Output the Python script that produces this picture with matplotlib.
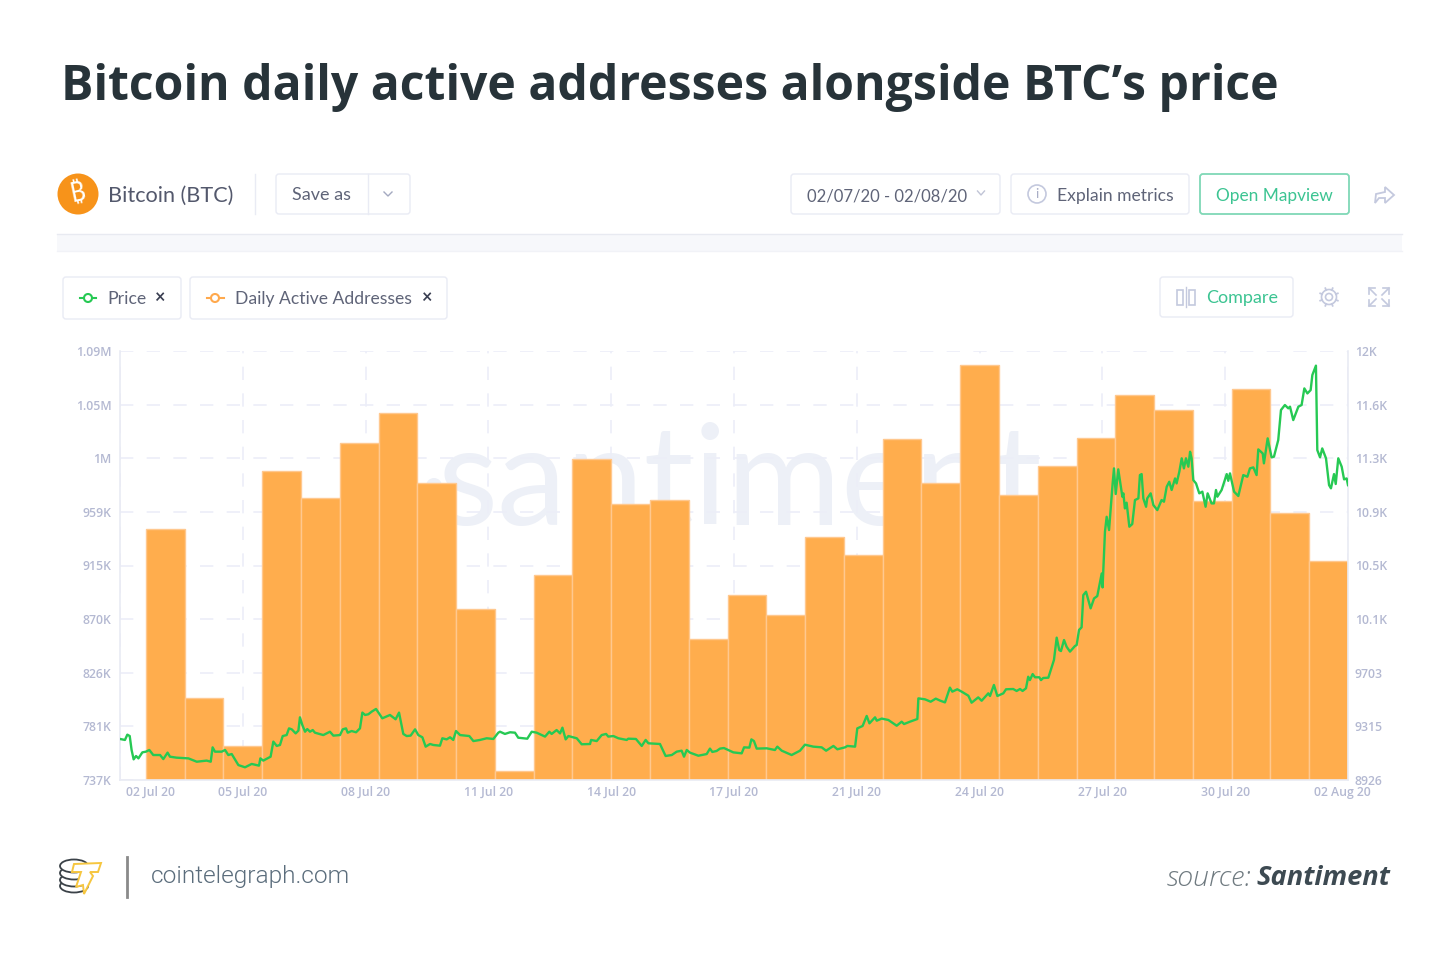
import numpy as np
import matplotlib
matplotlib.use('Agg')
import matplotlib.pyplot as plt
from matplotlib.patches import FancyBboxPatch, Circle, Rectangle, Ellipse, Polygon
from matplotlib.transforms import ScaledTranslation

# Daily active addresses, one bar per day
daa_values = [946000, 805000, 765000, 994000, 972000, 1017500, 1042000, 984000, 879000, 744500,
              908000, 1004000, 967000, 970000, 854000, 891000, 874000, 939000, 924000, 1021000,
              984000, 1082000, 974000, 998000, 1022000, 1057000, 1045000, 969000, 1062000, 959000, 919000]

# BTC price: hours since the left edge of the chart, and USD
price_hours = [
    0, 2.9, 4.3, 5.7, 6.8, 8, 9.4, 10.8, 13.1, 15.2, 17.2, 19.5, 23.5, 25.4, 27.9, 29.3, 33.2, 40.1, 45, 50.8,
    53.2, 54.3, 55.7, 59.6, 61.6, 63.5, 65.5, 69.4, 73.3, 77.2, 81.5, 82.3, 84, 88.3, 89.9, 91.9, 93.8, 95.4, 97.7, 99.1,
    100.7, 103, 104.6, 105.5, 106.9, 108.5, 109.8, 111.4, 113, 114.3, 119.2, 123.1, 125.1, 129, 130.6, 132.5, 133.5, 135.8, 138.4, 140.7,
    142.1, 143.7, 145.6, 147.6, 150.1, 153.8, 158.3, 161.6, 163.6, 166.1, 168.1, 170.4, 173, 174.9, 177.3, 179.2, 181.8, 183.7, 187.6, 189,
    191.5, 193.5, 195.4, 197, 199.4, 204.8, 207.2, 211.1, 215, 218.9, 221.8,
    222.8, 225.7, 228.7, 231.6, 233.5, 238.8, 241.4, 244.3, 249.2, 251.7, 253.1, 256, 258, 259.4, 261.3, 262.9, 267.8, 270.7, 275.6, 276.2,
    279.5, 282.4, 285, 286.3, 289.3, 292.2, 297.1, 298, 302.5, 305.9, 308.2, 309.8, 316.6, 319.9, 323.5, 326.4, 329.3, 330.7, 332.3, 334.2,
    339.1, 344, 345.9, 347.3, 349.8, 351.8, 354.1, 359.6, 364.5, 365.9, 369, 370.2, 371.7, 373.3, 379.2, 384, 385.4, 388, 393.8, 398.7,
    401.6, 406.5, 411.4, 414, 418.3, 420.6, 425.1, 426.5, 431, 432.3, 435.4, 437.8, 439.4, 442.7, 443.7, 446.6, 450.5, 455.4, 458.3, 459.7,
    463.2, 467.5, 468.1, 472, 475.3, 478.3, 480.8,
    483.7, 486.6, 488, 490.9, 493.5, 497.4, 499.3, 503.2, 505.2, 509.1, 510.1, 512.4, 514.4, 517.9, 519.5, 523.7, 525.7, 527.7, 529.2, 531.2,
    532.5, 533.5, 535.1, 536.5, 539, 540, 541.3, 544.3, 547.6, 549.2, 550.7, 551.7, 553.5, 555, 557, 559.9, 560.9, 562.3, 563.8,
    564.8, 566.4, 569.1, 571.1, 573, 575.6, 576.1, 577.5, 578.5, 579.9, 582, 582.8, 583.8, 585.3, 587.7, 588.3, 589.2, 590.2, 591.8, 593.5,
    595.1, 597.1, 598, 599, 600, 601.6, 602.3, 604.3, 605.9, 608.2, 610.7, 612.1, 613.7, 615.2, 616.6, 618.6, 619.5, 621.1, 622.5, 623.8,
    625, 626.4, 627.4, 628.3, 629.3, 630.9, 632.8, 634.6, 636.5, 637.7, 640, 641.4, 642.6, 643.4, 645.9, 648.9, 649.8, 650.8, 653.2, 655.7,
    658.6, 661, 662.5, 664.5, 666.4, 667.4, 670, 670.7, 672.9, 675.2, 676.6, 679.1, 680.7, 683, 685, 686, 687.9, 690.9, 692.8, 694.4,
    696.2, 698.1, 699.1, 701.2, 702, 703.6, 704.9, 707.1, 708.9, 710, 711.8, 712.8, 714.3, 716.3, 717.7, 719.2, 720]
price_usd = [
    9220, 9213, 9251, 9241, 9141, 9074, 9098, 9081, 9124, 9129, 9141, 9105, 9105, 9076, 9122, 9093, 9086, 9081, 9057, 9065,
    9057, 9160, 9129, 9129, 9141, 9105, 9112, 9033, 9017, 9041, 9029, 9081, 9065, 9093, 9201, 9170, 9177, 9241, 9248, 9296,
    9289, 9260, 9280, 9375, 9320, 9272, 9291, 9272, 9284, 9265, 9248, 9272, 9244, 9248, 9289, 9296, 9265, 9277, 9268, 9296,
    9409, 9392, 9397, 9416, 9435, 9368, 9392, 9361, 9409, 9256, 9241, 9244, 9289, 9248, 9232, 9165, 9184, 9177, 9172, 9225,
    9217, 9232, 9213, 9277, 9248, 9241, 9205, 9213, 9225, 9220, 9265,
    9272, 9256, 9268, 9265, 9229, 9222, 9272, 9265, 9237, 9272, 9256, 9284, 9260, 9301, 9217, 9241, 9225, 9182, 9184, 9213,
    9205, 9248, 9256, 9237, 9241, 9225, 9213, 9222, 9220, 9170, 9213, 9189, 9184, 9098, 9105, 9129, 9136, 9093, 9141, 9122,
    9100, 9112, 9151, 9127, 9134, 9151, 9155, 9124, 9117, 9160, 9158, 9217, 9205, 9151, 9153, 9141, 9165, 9136, 9105, 9136,
    9179, 9165, 9160, 9136, 9170, 9146, 9160, 9170, 9165, 9296, 9313, 9385, 9332, 9375, 9351, 9366, 9356, 9315, 9344, 9327,
    9344, 9363, 9511, 9504, 9487, 9509, 9495,
    9482, 9588, 9559, 9576, 9559, 9530, 9480, 9518, 9494, 9547, 9528, 9607, 9528, 9547, 9576, 9578, 9564, 9578, 9564, 9583,
    9666, 9642, 9685, 9662, 9662, 9642, 9657, 9659, 9786, 9946, 9857, 9850, 9929, 9881, 9846, 9886, 9893, 10001, 10020,
    10251, 10275, 10156, 10227, 10244, 10406, 10306, 10705, 10812, 10717, 11051, 11159, 10975, 11152, 10956, 10980, 10872, 10913, 10741, 10760,
    10932, 10944, 11111, 11118, 10944, 10884, 10944, 10980, 10896, 10860, 10932, 10920, 11027, 11063, 11004, 11087, 11051, 11135, 11231, 11159,
    11231, 11171, 11278, 11231, 11075, 11051, 10980, 10992, 10884, 10980, 10908, 10908, 11004, 10956, 11004, 11118, 11070, 11123, 10992, 10961,
    11111, 11099, 11159, 11166, 11111, 11295, 11266, 11195, 11374, 11238, 11243, 11362, 11577, 11613, 11589, 11601, 11505, 11601, 11613, 11732,
    11696, 11720, 11828, 11895, 11290, 11238, 11302, 11231, 11039, 11016, 11118, 11047, 11231, 11171, 11080, 11087, 11039]

x_tick_hours = [0, 72, 144, 216, 288, 360, 432, 504, 576, 648, 720]
x_tick_labels = ['02 Jul 20', '05 Jul 20', '08 Jul 20', '11 Jul 20', '14 Jul 20', '17 Jul 20',
                 '21 Jul 20', '24 Jul 20', '27 Jul 20', '30 Jul 20', '02 Aug 20']
daa_ticks = [737000, 781600, 826200, 870900, 915500, 960100, 1004700, 1049400, 1094000]
daa_tick_labels = ['737K', '781K', '826K', '870K', '915K', '959K', '1M', '1.05M', '1.09M']
price_ticks = [8926, 9310, 9695, 10079, 10463, 10847, 11232, 11616, 12000]
price_tick_labels = ['8926', '9315', '9703', '10.1K', '10.5K', '10.9K', '11.3K', '11.6K', '12K']

GREEN = '#26c953'
ORANGE = '#ffad4d'
TICK = '#b4b9d2'
GRID = '#eceef8'
BORDER = '#e9ebf4'
UI_TEXT = '#5f6478'
UI_GREEN = '#3cc492'
ICON = '#c4c9de'
UI_FONT = 'Lato'
WATERMARK = '#edf0f7'

fig = plt.figure(figsize=(14.5, 9.57), dpi=100, facecolor='white')

# page overlay in pixel coordinates, for the app chrome
bg = fig.add_axes([0, 0, 1, 1], zorder=0)
bg.set_xlim(0, 1450)
bg.set_ylim(957, 0)
bg.axis('off')


def box(x0, y0, x1, y1, edge=BORDER, lw=1.0):
    bg.add_patch(FancyBboxPatch((x0 + 3, y0 + 3), x1 - x0 - 6, y1 - y0 - 6, boxstyle='round,pad=3',
                                fc='white', ec=edge, lw=lw))


def label(x, y, s, color=UI_TEXT, size=13, ha='left', **kw):
    bg.text(x, y, s, color=color, fontsize=size, ha=ha, va='center', family=UI_FONT, **kw)


def chevron(x, y, w=4, color='#a4a9c0'):
    bg.plot([x - w, x, x + w], [y - 2, y + 2, y - 2], color=color, lw=1)


bg.text(61, 87, 'Bitcoin daily active addresses alongside BTC\u2019s price', fontsize=34.65, fontweight='bold',
        family='Open Sans', color='#273339', ha='left', va='center')

# header row
bg.add_patch(Circle((78, 194), 20.5, fc='#f7931a', ec='none'))
bg.text(78, 194, '\u20bf', color='white', fontsize=19, fontweight='bold', rotation=12, ha='center', va='center',
        family=['Noto Sans', 'Roboto', 'Open Sans', 'Inter', 'Liberation Sans', 'DejaVu Sans', 'Noto Sans CJK SC'])
label(108, 196, 'Bitcoin (BTC)', size=15.6, color='#53586c')
bg.plot([255, 255], [174, 214], color=BORDER, lw=1)
box(276, 174, 410, 214)
bg.plot([368, 368], [174, 214], color=BORDER, lw=1)
label(292, 195, 'Save as', size=13)
chevron(388, 194)
box(791, 174, 1000, 214)
label(807, 196, '02/07/20 - 02/08/20', size=12)
chevron(981, 193, w=3.5, color='#c0c4d6')
box(1011, 174, 1189, 214)
bg.add_patch(Circle((1037, 194), 9, fc='none', ec=ICON, lw=1.2))
bg.text(1037, 194, 'i', color='#a9aec6', fontsize=10, ha='center', va='center', family=UI_FONT)
label(1057, 196, 'Explain metrics', size=12.6)
box(1200, 174, 1349, 214, edge='#7fd8b6', lw=1.3)
label(1216, 196, 'Open Mapview', size=12.4, color=UI_GREEN)
bg.add_patch(Polygon([(1375, 203), (1376, 194), (1385, 192), (1385, 187), (1394, 195), (1385, 203), (1385, 198), (1379, 198)],
                     closed=True, fc='none', ec=ICON, lw=1.3))

# band under the header
bg.add_patch(Rectangle((57, 234), 1345, 17, fc='#f7f8fb', ec='none'))
bg.plot([57, 1402], [234, 234], color='#e8eaf1', lw=1)
bg.plot([57, 1402], [251, 251], color='#f1f2f7', lw=1)

# metric pills
box(63, 277, 181, 319)
bg.plot([80, 96], [298, 298], color=GREEN, lw=1.5)
bg.add_patch(Circle((88, 298), 4, fc='white', ec=GREEN, lw=1.5, zorder=3))
label(107, 299, 'Price', size=12.7)
label(159, 297, '\u00d7', size=13, ha='center', color='#3a3f52', fontweight='bold')
box(190, 277, 447, 319)
bg.plot([207, 224], [298, 298], color='#ffa94d', lw=1.5)
bg.add_patch(Circle((215, 298), 4, fc='white', ec='#ffa94d', lw=1.5, zorder=3))
label(235, 299, 'Daily Active Addresses', size=12.6)
label(426, 297, '\u00d7', size=13, ha='center', color='#3a3f52', fontweight='bold')

# compare, settings, expand
box(1160, 277, 1293, 317)
bg.add_patch(Rectangle((1177, 290), 6, 15, fc='none', ec=ICON, lw=1.2))
bg.add_patch(Rectangle((1189, 290), 6, 15, fc='none', ec=ICON, lw=1.2))
bg.plot([1186, 1186], [287, 307], color=ICON, lw=1)
label(1206, 298, 'Compare', size=13, color=UI_GREEN)
bg.add_patch(Circle((1329, 297), 3.5, fc='none', ec=ICON, lw=1.2))
bg.add_patch(Circle((1329, 297), 7.5, fc='none', ec=ICON, lw=1.2))
for a in np.arange(8) * np.pi / 4 + np.pi / 8:
    bg.plot([1329 + 7.5 * np.cos(a), 1329 + 9.5 * np.cos(a)], [297 + 7.5 * np.sin(a), 297 + 9.5 * np.sin(a)], color=ICON, lw=1.3)
for sx, sy in [(-1, -1), (1, -1), (-1, 1), (1, 1)]:
    cx, cy = 1379 + sx * 10, 297 + sy * 9
    bg.plot([cx - sx * 6, cx, cx], [cy, cy, cy - sy * 6], color=ICON, lw=1.2)
    bg.plot([cx, cx - sx * 7], [cy, cy - sy * 7], color=ICON, lw=1.2)

# dot of the watermark logo, nearly hidden by a bar
bg.add_patch(Circle((434, 486), 8, fc=WATERMARK, ec='none'))

# footer
for cy in [886, 880, 873, 866]:
    bg.add_patch(Ellipse((74, cy), 28, 13, fc='white', ec='#3b4248', lw=1.3))
bg.add_patch(Polygon([(74, 864), (101, 863), (98, 872), (90, 872), (93, 876), (84, 894), (83, 885), (76, 887), (81, 872), (72, 872)],
                     closed=True, fc='white', ec='#f6c63f', lw=1.4, zorder=3))
bg.plot([127, 127], [857, 897], color='#8a8a8a', lw=2)
bg.text(151, 877, 'cointelegraph.com', fontsize=17.6, family='Roboto', fontweight=300, color='#5b6d7c', ha='left', va='center')
bg.text(1390, 878, 'Santiment', fontsize=19.6, family='Open Sans', fontweight='bold', style='italic', color='#3d4a52', ha='right', va='center')
bg.text(1252, 878, 'source:', fontsize=20.5, family='Open Sans', fontweight='light', style='italic', color='#6f7a80', ha='right', va='center')

# chart, plot area spans x 120..1348 and y 351..780 in pixels
rect = [120 / 1450, 1 - 780 / 957, 1228 / 1450, 429 / 957]
ax = fig.add_axes(rect, zorder=1, facecolor='none')
ax.set_xlim(0, 720)
ax.set_ylim(daa_ticks[0], daa_ticks[-1])
ax.set_axisbelow(True)

# watermark behind the bars
ax.text(0.505, 0.594, 'santiment', transform=ax.transAxes, fontsize=100, color=WATERMARK,
        family='Lato', ha='center', va='baseline', zorder=0.5)

# the 31 daily bars fill the axis from the right edge
bar_edges = np.linspace(15.2, 720, len(daa_values) + 1)
ax.bar(bar_edges[:-1], np.array(daa_values) - daa_ticks[0], width=np.diff(bar_edges), bottom=daa_ticks[0], align='edge',
       color=ORANGE, edgecolor='#ffc88f', linewidth=1, zorder=2)

ax.set_yticks(daa_ticks)
ax.set_yticklabels(daa_tick_labels)
ax.set_xticks(x_tick_hours)
ax.set_xticklabels(x_tick_labels)
ax.grid(True, color=GRID, lw=1.2, ls=(0, (8, 8)))
ax.tick_params(axis='both', length=0, labelsize=8.8, labelcolor=TICK, pad=6)
ax.tick_params(axis='x', pad=4)
for lbl in ax.get_xticklabels() + ax.get_yticklabels():
    lbl.set_family('Open Sans')
    lbl.set_fontweight(600)
for side in ['top', 'right']:
    ax.spines[side].set_visible(False)
for side in ['left', 'bottom']:
    ax.spines[side].set_color(BORDER)
    ax.spines[side].set_linewidth(1.2)

# the first and last date labels are pushed inside the page
xlabels = ax.get_xticklabels()
xlabels[0].set_transform(xlabels[0].get_transform() + ScaledTranslation(0.31, 0, fig.dpi_scale_trans))
xlabels[-1].set_transform(xlabels[-1].get_transform() + ScaledTranslation(-0.06, 0, fig.dpi_scale_trans))

ax2 = ax.twinx()
ax2.set_zorder(2)
ax2.set_ylim(price_ticks[0], price_ticks[-1])
ax2.plot(price_hours, price_usd, color=GREEN, lw=1.7, solid_joinstyle='round', zorder=3)
ax2.set_yticks(price_ticks)
ax2.set_yticklabels(price_tick_labels)
ax2.tick_params(axis='y', length=0, labelsize=8.8, labelcolor=TICK, pad=5)
for lbl in ax2.get_yticklabels():
    lbl.set_family('Open Sans')
    lbl.set_fontweight(600)
for side in ['top', 'left', 'bottom']:
    ax2.spines[side].set_visible(False)
ax2.spines['right'].set_color(BORDER)
ax2.spines['right'].set_linewidth(1.2)

fig.savefig('out.png', dpi=100)
